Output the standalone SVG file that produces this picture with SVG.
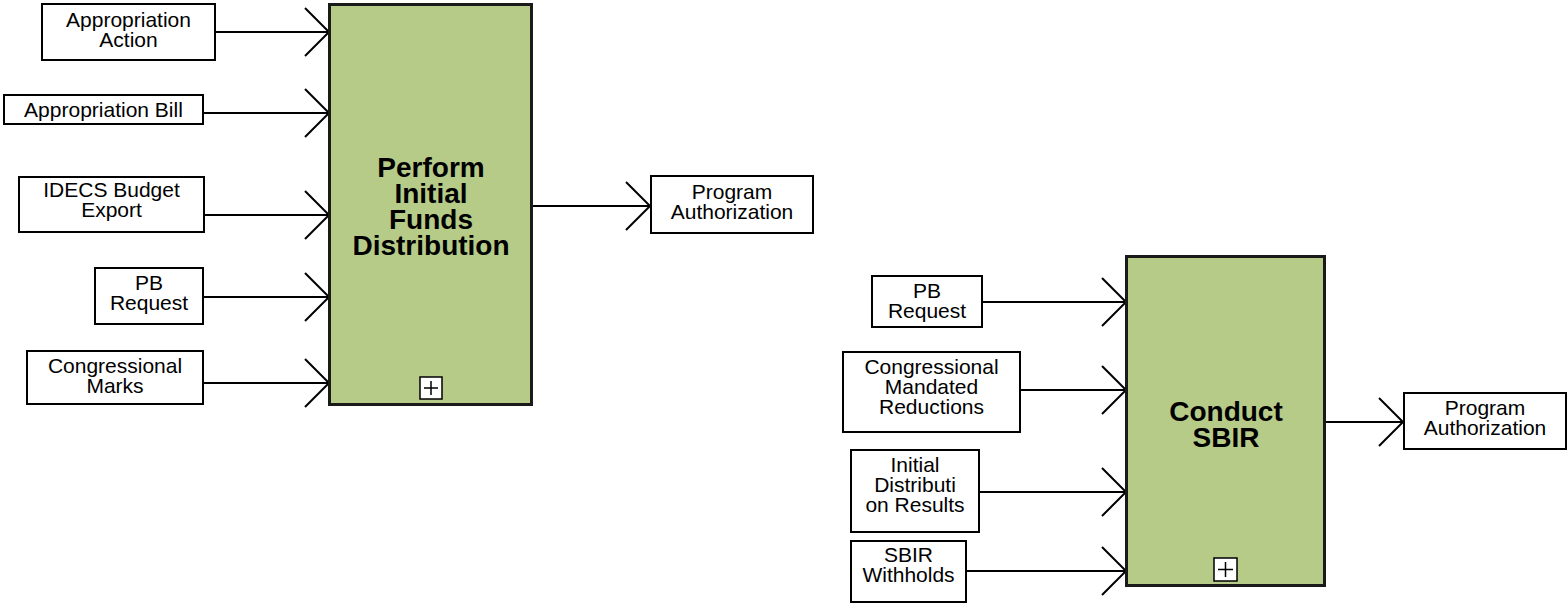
<svg xmlns="http://www.w3.org/2000/svg" width="1568" height="605" viewBox="0 0 1568 605">
<style>
.box{fill:#fff;stroke:#000;stroke-width:2}
.act{fill:#b6cb88;stroke:#1a1a1a;stroke-width:3}
.lbl{font-family:"Liberation Sans",Arial,sans-serif;font-size:21px;text-anchor:middle;fill:#000}
.ttl{font-family:"Liberation Sans",Arial,sans-serif;font-size:28px;font-weight:bold;text-anchor:middle;fill:#000}
.con{stroke:#000;stroke-width:2;fill:none;marker-end:url(#arr)}
.plus{fill:#fff;stroke:#000;stroke-width:1.5}
</style>
<defs>
<marker id="arr" markerUnits="userSpaceOnUse" markerWidth="30" markerHeight="52" viewBox="-26 -26 30 52" refX="0" refY="0" orient="auto">
<path d="M-24,-24 L0,0 L-24,24" fill="none" stroke="#000" stroke-width="2"/>
</marker>
</defs>
<rect width="1568" height="605" fill="#fff"/>

<g id="connectors">
<line class="con" x1="215" y1="32" x2="329" y2="32"/>
<line class="con" x1="203" y1="113" x2="329" y2="113"/>
<line class="con" x1="204" y1="215" x2="329" y2="215"/>
<line class="con" x1="203" y1="297" x2="329" y2="297"/>
<line class="con" x1="203" y1="383" x2="329" y2="383"/>
<line class="con" x1="532" y1="206" x2="650" y2="206"/>
<line class="con" x1="982" y1="302" x2="1126" y2="302"/>
<line class="con" x1="1020" y1="390" x2="1126" y2="390"/>
<line class="con" x1="979" y1="492" x2="1126" y2="492"/>
<line class="con" x1="966" y1="571" x2="1126" y2="571"/>
<line class="con" x1="1325" y1="422" x2="1403" y2="422"/>
</g>

<g id="perform-initial-funds-distribution">
<rect class="act" x="329.5" y="4.5" width="202" height="400"/>
<text class="ttl" x="431" y="177">Perform</text>
<text class="ttl" x="431" y="203">Initial</text>
<text class="ttl" x="431" y="229">Funds</text>
<text class="ttl" x="431" y="255">Distribution</text>
<rect class="plus" x="420" y="377" width="22" height="22"/>
<path d="M431,381 V395 M424,388 H438" stroke="#000" stroke-width="1.5"/>
</g>

<g id="appropriation-action">
<rect class="box" x="42" y="4" width="173" height="56"/>
<text class="lbl" x="128.5" y="27">Appropriation</text>
<text class="lbl" x="128.5" y="47">Action</text>
</g>
<g id="appropriation-bill">
<rect class="box" x="4" y="95" width="199" height="29"/>
<text class="lbl" x="103.5" y="117">Appropriation Bill</text>
</g>
<g id="idecs-budget-export">
<rect class="box" x="19" y="177" width="185" height="55"/>
<text class="lbl" x="111.5" y="197">IDECS Budget</text>
<text class="lbl" x="111.5" y="217">Export</text>
</g>
<g id="pb-request-1">
<rect class="box" x="95" y="268" width="108" height="56"/>
<text class="lbl" x="149" y="290">PB</text>
<text class="lbl" x="149" y="310">Request</text>
</g>
<g id="congressional-marks">
<rect class="box" x="27" y="351" width="176" height="53"/>
<text class="lbl" x="115" y="373">Congressional</text>
<text class="lbl" x="115" y="393">Marks</text>
</g>
<g id="program-authorization-1">
<rect class="box" x="651" y="176" width="162" height="57"/>
<text class="lbl" x="732" y="199">Program</text>
<text class="lbl" x="732" y="219">Authorization</text>
</g>

<g id="conduct-sbir">
<rect class="act" x="1126.5" y="256.5" width="198" height="329"/>
<text class="ttl" x="1226" y="421">Conduct</text>
<text class="ttl" x="1226" y="447">SBIR</text>
<rect class="plus" x="1214" y="558" width="23" height="23"/>
<path d="M1225.5,562 V577 M1218,569.5 H1233" stroke="#000" stroke-width="1.5"/>
</g>

<g id="pb-request-2">
<rect class="box" x="872" y="276" width="110" height="51"/>
<text class="lbl" x="927" y="298">PB</text>
<text class="lbl" x="927" y="318">Request</text>
</g>
<g id="congressional-mandated-reductions">
<rect class="box" x="843" y="352" width="177" height="80"/>
<text class="lbl" x="931.5" y="374">Congressional</text>
<text class="lbl" x="931.5" y="394">Mandated</text>
<text class="lbl" x="931.5" y="414">Reductions</text>
</g>
<g id="initial-distribution-results">
<rect class="box" x="851" y="450" width="128" height="82"/>
<text class="lbl" x="915" y="472">Initial</text>
<text class="lbl" x="915" y="492">Distributi</text>
<text class="lbl" x="915" y="512">on Results</text>
</g>
<g id="sbir-withholds">
<rect class="box" x="851" y="541" width="115" height="61"/>
<text class="lbl" x="908.5" y="562">SBIR</text>
<text class="lbl" x="908.5" y="582">Withholds</text>
</g>
<g id="program-authorization-2">
<rect class="box" x="1404" y="393" width="162" height="56"/>
<text class="lbl" x="1485" y="415">Program</text>
<text class="lbl" x="1485" y="435">Authorization</text>
</g>
</svg>
